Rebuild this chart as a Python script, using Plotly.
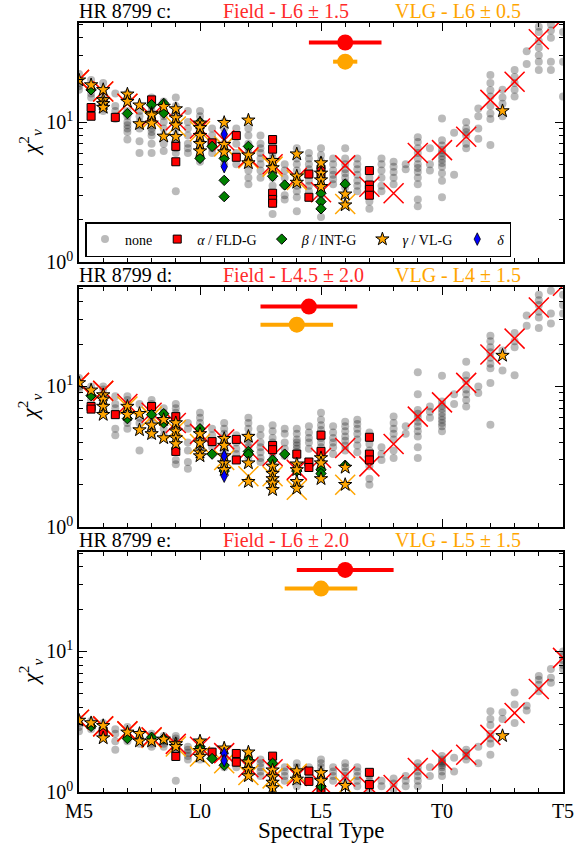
import plotly.graph_objects as go
import math

# ---------------- data ----------------
# spectral type numeric: M5=-5, L0=0, L5=5, T0=10, T5=15
tick_vals = [-5, 0, 5, 10, 15]
tick_text = ["M5", "L0", "L5", "T0", "T5"]
fit_types = list(range(-5, 16))

# HR 8799 c
none_c = {
    -5: [22, 20, 19, 18, 17], -4.5: [20, 18, 16, 15], -4: [19, 17, 15, 14, 13, 12.5, 12],
    -3.5: [16, 13, 12, 11, 10.5], -3: [16, 14, 12, 11, 10, 9.5, 9, 8.5, 7.5],
    -2.5: [12, 11, 10, 9.5, 9, 7.3, 6.0], -2: [15, 14, 13, 12, 11, 10.5, 10, 9.5, 9, 8.5, 8, 7, 6],
    -1.5: [14, 12, 11, 10, 9, 8, 7, 6.2], -1: [15, 13, 12, 11, 10, 9, 8, 7.5, 7, 6.5, 6, 3.2],
    -0.5: [12, 10, 9, 8, 7, 6.5, 6], 0: [12, 11, 10, 9.5, 9, 8.5, 8, 7.5, 7, 6.5, 6, 5.5, 5.2],
    0.5: [9, 8, 7, 6.5, 6], 1: [10, 9, 8, 7, 6.5, 6, 5.5, 5], 1.5: [9, 8, 7, 6, 5],
    2: [9, 8, 7, 6.5, 6, 5.5, 5, 4.5, 4, 3.6], 2.5: [8, 7, 6.5, 6, 5.5, 5, 4.5, 4],
    3: [7, 6, 5.5, 5, 4.5, 4, 3.5, 3, 2.6, 2.2], 3.5: [5, 4.5, 4, 3.5, 3, 2.8],
    4: [6.5, 5.5, 5, 4.5, 4, 3.7, 3.5, 3.2, 2.9, 2.3], 4.5: [6, 5.5, 5, 4.6, 4.2, 3.8, 3.5, 3.2, 2.9],
    5: [6.5, 5.8, 5.3, 5, 4.7, 4.4, 4.1, 3.8, 3.5, 3.2, 2.8, 2.4, 2.1],
    5.5: [5.5, 5, 4.5, 4.2, 3.9, 3.6], 6: [6.5, 5.5, 5, 4.6, 4.3, 4, 3.7, 3.4, 3, 2.6],
    6.5: [5.5, 5, 4.6, 4.2, 3.8, 3.5, 3.2], 7: [4.5, 4, 3.5, 3.2, 3, 2.7, 2.4],
    7.5: [5.5, 5, 4.5, 4, 3.5, 3.2], 8: [5.2, 4.8, 4.4, 4, 3.6], 8.5: [5, 4.6],
    9: [7.8, 7.2, 6.5, 6, 5.5, 5, 4.7, 4.4, 4, 3.6, 2.8, 2.5], 9.5: [6.5, 5, 4.5],
    10: [10.6, 7.4, 6.8, 6.3, 6, 5.7, 5.4, 5.1, 4.8, 4.3, 3.8, 2.9], 10.5: [8.4, 4.2],
    11: [10, 9, 8.5, 8, 7, 6.5], 11.5: [12.5, 11, 9, 7.6],
    12: [21.7, 19, 16.9, 15.2, 13, 11.5, 10.5, 6.85], 12.5: [17, 15, 13.5, 11],
    13: [23.5, 21, 19, 17, 15.2], 13.5: [32, 26],
    14: [48, 44, 38, 34, 30, 27, 23.5], 14.5: [50, 45, 40, 27, 23.5], 15: [44, 27, 15.2],
}
fld_c = [(-4.5, 12.7), (-4.5, 11.0), (-4, 14.0), (-3.5, 10.8), (-2, 14.4), (-1, 6.7), (-1, 5.2),
         (0.5, 7.1), (1.5, 8.0), (1.5, 5.6), (3, 7.5), (3, 6.4), (3, 3.1), (3, 2.8), (3, 2.63),
         (4.5, 4.25), (4.5, 2.9), (5, 4.6), (5, 4.2), (7, 4.5), (7, 3.55), (7, 3.3), (7, 3.0)]
int_c = [(-4.5, 17.0), (-3, 11.5), (-2, 13.3), (-1.5, 13.6), (-1.5, 11.6), (0, 10.0), (0, 5.5),
         (0.5, 6.7), (1, 5.5), (1, 3.83), (1, 2.93), (2, 6.7), (3, 4.1), (3.5, 3.55),
         (5, 3.1), (5, 2.7), (5, 2.4), (6, 3.6)]
vlg_c = [(-5, 19.9), (-4.5, 18.4), (-4, 17.0), (-4, 14.4), (-4, 13.5), (-4, 12.7), (-3, 15.8),
         (-3, 14.0), (-2.5, 13.2), (-2.5, 9.7), (-2, 11.5), (-2, 11.2), (-2, 9.8), (-1.5, 12.9),
         (-1.5, 7.9), (-1, 12.4), (-1, 10.7), (-1, 9.5), (-1, 7.85), (0, 9.8), (0, 9.1), (0, 8.0),
         (0, 7.0), (0, 6.2), (1, 9.9), (1, 6.9), (1, 6.1), (2, 10.3), (2, 5.8), (2, 5.1),
         (3, 5.3), (3, 4.7), (4, 5.9), (4, 4.1), (4, 3.7), (5, 5.1), (5, 4.3), (5, 3.85),
         (5, 3.45), (6, 3.05), (6, 2.55), (12.5, 12.0)]
del_c = [(1, 8.2), (1, 4.8)]
fld_fit_c = [20, 16.5, 13.5, 11, 10.3, 9.0, 7.4, 5.6, 5.0, 4.0, 3.15, 4.9, 3.45, 3.1, 6.0, 6.3,
             7.85, 14.4, 19.4, 39, 55]
vlg_fit_c = [20, 16.5, 13.5, 10.5, 9.3, 8.6, 6.7, 5.5, 4.8, 3.85, None, 2.6]

# HR 8799 d
none_d = {
    -5: [11.5, 10, 9.5], -4.5: [10, 9, 8], -4: [10, 9.5, 8, 7.5, 7], -3.5: [8.5, 7.5, 7, 5, 4.5],
    -3: [8.5, 8, 7.5, 7, 6.5, 6, 5.5, 5], -2.5: [7.5, 6, 5.5, 3.5],
    -2: [8, 7.5, 7, 6.5, 6, 5.5, 5, 4.5], -1.5: [7, 6.5, 6, 5.5, 5, 4.5],
    -1: [7.5, 7, 6.5, 6, 5.5, 5, 4.5, 4, 3, 2.8], -0.5: [5.5, 5, 4, 3.5, 2.9, 2.6],
    0: [6.5, 6, 5.5, 5, 4.5, 4.3, 4, 3.8, 3.6, 3.4], 0.5: [5, 4.5, 4, 3.7],
    1: [5.5, 5, 4.6, 4.3, 4, 3.7, 3.4, 3.1, 2.8], 1.5: [4.5, 4, 3.6, 3.3],
    2: [6, 5.5, 5, 4.5, 4.2, 4, 3.7, 3.4, 3.1], 2.5: [5, 4.5, 4, 3.7, 3.4, 3.1, 2.9],
    3: [5.3, 4.8, 4.3, 4, 3.7, 3.4, 3.1, 2.8], 3.5: [5, 4.6, 4, 3.6, 3.2],
    4: [5, 4.6, 4.2, 4, 3.8, 3.6, 3.4, 3.2], 4.5: [5.2, 4.7, 4.3, 4, 3.6],
    5: [6.5, 5.8, 5.3, 4.9, 4.6, 4.3, 4, 3.7, 3.4, 3.1, 2.8], 5.5: [5.2, 4.7, 4.3, 4, 3.7, 3.3],
    6: [5.6, 5.2, 4.8, 4.4, 4.1, 3.8, 3.5], 6.5: [5.8, 5.4, 5, 4.6, 4.2, 3.8, 3.4],
    7: [4.7, 4.3, 3.9, 3.5, 3.1, 2.7, 2.2, 2.0], 7.5: [3.7, 3.3, 3.0],
    8: [6.1, 5.5, 5, 4.6, 4.2, 3.5, 3.1], 8.5: [5.2, 4.6],
    9: [12.6, 8.8, 6.8, 6.4, 6, 5.6, 5.2, 4.8, 4.4, 3.7, 3.1], 9.5: [7.2, 6.6, 6.0],
    10: [11.9, 7.8, 7.3, 6.9, 6.5, 6.1, 5.8, 5.5, 5.2, 4.8], 10.5: [8.8, 7.5],
    11: [15, 12, 11, 9.5, 8.8, 8, 7.2], 11.5: [10, 9],
    12: [22.9, 21, 19, 17.5, 16, 14.5, 13.5, 10.6, 5.35], 12.5: [18, 13],
    13: [24, 21, 19, 12], 13.5: [32, 27],
    14: [45, 41, 38, 34, 31, 26], 14.5: [48, 33, 28], 15: [55, 45, 38, 33],
}
fld_d = [(-4.5, 7.2), (-4.5, 6.9), (-3.5, 6.3), (-2, 7.2), (-1, 6.1), (-1, 3.45), (0.5, 4.05),
         (1.5, 4.2), (1.5, 3.0), (3, 3.8), (3, 3.55), (4, 3.3), (4.5, 2.9), (4.5, 2.65),
         (5, 4.5), (5, 3.45), (7, 4.35), (7, 3.3), (7, 3.0)]
int_d = [(-4.5, 8.6), (-3, 5.9), (-2, 6.3), (-1.5, 6.4), (-1.5, 5.5), (0, 5.0), (0.5, 3.3),
         (1, 2.5), (2, 3.45), (2, 3.3), (3, 3.0), (3.5, 3.3), (4, 2.5), (5, 2.55), (5, 2.4),
         (6, 2.75)]
vlg_d = [(-5, 10.6), (-4.5, 9.4), (-4, 8.7), (-4, 8.1), (-4, 7.2), (-4, 6.3), (-3, 7.2),
         (-3, 6.3), (-2.5, 6.4), (-2.5, 4.9), (-2, 5.3), (-2, 4.6), (-1.5, 5.8), (-1.5, 4.3),
         (-1, 5.5), (-1, 4.8), (-1, 4.3), (-1, 3.9), (0, 4.6), (0, 3.96), (0, 3.4), (0, 3.2),
         (1, 4.25), (1, 3.8), (1, 3.2), (1, 2.85), (1, 2.55), (2, 4.4), (2, 2.85), (2, 2.1),
         (3, 2.7), (3, 2.4), (3, 2.2), (3, 2.05), (3, 1.84), (4, 2.8), (4, 2.55), (4, 2.1),
         (4, 1.88), (5, 3.1), (5, 2.85), (5, 2.2), (6, 2.65), (6, 2.0), (12.5, 16.6)]
del_d = [(1, 3.2), (1, 2.3)]
fld_fit_d = [10.6, 9.3, 7.5, 6.5, 5.5, 4.6, 4.2, 3.55, 3.2, 2.55, 3.1, 3.65, 2.7, 3.9, 6.1, 7.7,
             10.6, 16.9, 21.9, 36.5, 52]
vlg_fit_d = [10.6, 9.3, 7.2, 6.1, 4.9, 3.9, 3.0, 2.3, 2.3, 1.84, None, 2.0]

# HR 8799 e
none_e = {
    -5: [3.3, 3.1, 2.9, 2.7], -4.5: [3.2, 3.0, 2.8], -4: [3.1, 2.9, 2.7, 2.6],
    -3.5: [2.8, 2.6, 2.3, 2.0], -3: [2.9, 2.7, 2.5, 2.3], -2.5: [2.6, 2.4, 2.2],
    -2: [2.6, 2.5, 2.4, 2.3, 2.2, 2.1], -1.5: [2.5, 2.3, 2.2, 2.1],
    -1: [2.5, 2.4, 2.3, 2.2, 2.1, 2.0, 1.9, 1.2], -0.5: [2.1, 2.0, 1.9, 1.8, 1.7],
    0: [2.3, 2.2, 2.1, 2.0, 1.9, 1.8, 1.7], 0.5: [1.95, 1.85, 1.75],
    1: [1.9, 1.8, 1.7, 1.6, 1.5], 1.5: [1.8, 1.7, 1.6, 1.5],
    2: [1.9, 1.8, 1.7, 1.6, 1.5, 1.4], 2.5: [1.7, 1.6, 1.5, 1.4, 1.3],
    3: [1.7, 1.6, 1.5, 1.4, 1.3, 1.2], 3.5: [1.5, 1.4, 1.3, 1.2],
    4: [1.6, 1.5, 1.4, 1.3, 1.2, 1.1], 4.5: [1.5, 1.4, 1.3, 1.2],
    5: [1.7, 1.6, 1.5, 1.4, 1.3, 1.2, 1.1], 5.5: [1.5, 1.4, 1.3, 1.2],
    6: [1.6, 1.5, 1.4, 1.3, 1.2, 1.1], 6.5: [1.5, 1.4, 1.3, 1.2, 1.1],
    7: [1.3, 1.2, 1.1, 1.05], 7.5: [1.2, 1.1], 8: [1.25, 1.15, 1.05], 8.5: [1.3, 1.2, 1.1],
    9: [1.6, 1.5, 1.4, 1.3, 1.2, 1.1], 9.5: [1.5, 1.3],
    10: [1.8, 1.7, 1.65, 1.6, 1.55, 1.5, 1.4, 1.3], 10.5: [1.75, 1.4],
    11: [2.0, 1.9, 1.8, 1.7], 11.5: [2.1, 1.6],
    12: [3.75, 3.3, 3.0, 2.6, 2.4, 2.2, 1.84], 12.5: [3.7, 3.3],
    13: [5.1, 4.2, 3.1], 13.5: [4.1, 3.8],
    14: [6.7, 6.3, 5.8, 5.2], 14.5: [7.5, 6.5, 6.0], 15: [10, 9.3, 8.7, 8.0, 7.5],
}
fld_e = [(-4, 2.7), (-1, 1.79), (0.5, 1.92), (1.5, 1.88), (1.5, 1.63), (3, 1.8),
         (4.5, 1.41), (4.5, 1.19), (5, 1.04), (7, 1.38), (7, 1.13)]
int_e = [(-4.5, 2.93), (-3, 2.4), (-2, 2.45), (-1.5, 2.4), (0, 2.1), (0.5, 1.73), (1, 1.55),
         (2, 1.7), (3, 1.6), (5, 1.1)]
vlg_e = [(-5, 3.23), (-4.5, 3.1), (-4, 2.96), (-4, 2.42), (-3, 2.66), (-2.5, 2.6), (-2.5, 2.3),
         (-2, 2.3), (-1.5, 2.37), (-1, 2.2), (-1, 2.1), (0, 2.3), (0, 1.97), (0, 1.79),
         (1, 2.05), (2, 1.92), (2, 1.63), (2, 1.44), (2, 1.3), (3, 1.43), (3, 1.28), (3, 1.17),
         (3, 1.07), (4, 1.41), (4, 1.23), (5, 1.37), (5, 1.2), (6, 1.11), (12.5, 2.51)]
del_e = [(1, 1.88), (1, 1.67)]
fld_fit_e = [3.27, 2.93, 2.7, 2.45, 2.2, 2.1, 1.89, 1.5, 1.45, 1.3, 1.15, 1.29, 1.09, 1.12, 1.48,
             1.69, 1.84, 2.55, 3.65, 5.4, 9.0]
vlg_fit_e = [3.27, 2.93, 2.7, 2.42, 2.11, 1.79, 1.6, 1.32, 1.25, 1.35, None, 1.09]

panels = [
    dict(name="HR 8799 c:", field="Field - L6 ± 1.5", vlg="VLG - L6 ± 0.5",
         none=none_c, fld=fld_c, int=int_c, vlg_pts=vlg_c, dl=del_c,
         fld_fit=fld_fit_c, vlg_fit=vlg_fit_c, best_f=(6, 1.5, 37), best_v=(6, 0.5, 27)),
    dict(name="HR 8799 d:", field="Field - L4.5 ± 2.0", vlg="VLG - L4 ± 1.5",
         none=none_d, fld=fld_d, int=int_d, vlg_pts=vlg_d, dl=del_d,
         fld_fit=fld_fit_d, vlg_fit=vlg_fit_d, best_f=(4.5, 2.0, 37), best_v=(4, 1.5, 27.5)),
    dict(name="HR 8799 e:", field="Field - L6 ± 2.0", vlg="VLG - L5 ± 1.5",
         none=none_e, fld=fld_e, int=int_e, vlg_pts=vlg_e, dl=del_e,
         fld_fit=fld_fit_e, vlg_fit=vlg_fit_e, best_f=(6, 2.0, 38), best_v=(5, 1.5, 28)),
]

# ---------------- figure ----------------
W, H = 576, 844
ML, MT = 79, 23
MR = W - 563
MB = H - 792
PW, PH = W - ML - MR, H - MT - MB
panel_px = [(23, 262), (287, 527), (552, 792)]


def py2paper(py):
    return (H - MB - py) / PH


def px2paper(px):
    return (px - ML) / PW


FONT = "Liberation Serif"
RED = "#ff0000"
ORANGE = "#ffa500"
fig = go.Figure()

for i, p in enumerate(panels):
    xa = "x" if i == 0 else f"x{i+1}"
    ya = "y" if i == 0 else f"y{i+1}"
    leg = (i == 0)
    gx, gy = [], []
    for st, vals in p["none"].items():
        for v in vals:
            gx.append(st)
            gy.append(v)
    fig.add_trace(go.Scatter(x=gx, y=gy, mode="markers", xaxis=xa, yaxis=ya, name="none",
                             legendgroup="none", showlegend=leg,
                             marker=dict(color="rgba(0,0,0,0.27)", size=8, line=dict(width=0))))
    vt = [t for t, v in zip(fit_types, p["vlg_fit"]) if v is not None]
    vv = [v for v in p["vlg_fit"] if v is not None]
    fig.add_trace(go.Scatter(x=vt, y=vv, mode="markers", xaxis=xa, yaxis=ya, showlegend=False,
                             marker=dict(symbol="x-thin", size=20, line=dict(color=ORANGE, width=1.5))))
    fig.add_trace(go.Scatter(x=fit_types, y=p["fld_fit"], mode="markers", xaxis=xa, yaxis=ya,
                             showlegend=False,
                             marker=dict(symbol="x-thin", size=20, line=dict(color=RED, width=1.5))))
    fig.add_trace(go.Scatter(x=[a for a, b in p["fld"]], y=[b for a, b in p["fld"]], mode="markers",
                             xaxis=xa, yaxis=ya, name="<i>α</i> / FLD-G", legendgroup="a",
                             showlegend=leg,
                             marker=dict(symbol="square", size=8, color=RED,
                                         line=dict(color="black", width=1))))
    fig.add_trace(go.Scatter(x=[a for a, b in p["int"]], y=[b for a, b in p["int"]], mode="markers",
                             xaxis=xa, yaxis=ya, name="<i>β</i> / INT-G", legendgroup="b",
                             showlegend=leg,
                             marker=dict(symbol="diamond", size=8, color="#008000",
                                         line=dict(color="black", width=1))))
    fig.add_trace(go.Scatter(x=[a for a, b in p["vlg_pts"]], y=[b for a, b in p["vlg_pts"]],
                             mode="markers", xaxis=xa, yaxis=ya, name="<i>γ</i> / VL-G",
                             legendgroup="g", showlegend=leg,
                             marker=dict(symbol="star", size=10, color=ORANGE,
                                         line=dict(color="black", width=1))))
    fig.add_trace(go.Scatter(x=[a for a, b in p["dl"]], y=[b for a, b in p["dl"]], mode="markers",
                             xaxis=xa, yaxis=ya, name="<i>δ</i>", legendgroup="d", showlegend=leg,
                             marker=dict(symbol="diamond-tall", size=9, color="#0000ff",
                                         line=dict(color="black", width=0.8))))
    bf, bv = p["best_f"], p["best_v"]
    fig.add_trace(go.Scatter(x=[bv[0]], y=[bv[2]], mode="markers", xaxis=xa, yaxis=ya,
                             showlegend=False,
                             error_x=dict(type="data", array=[bv[1]], color=ORANGE, thickness=4,
                                          width=0),
                             marker=dict(size=16, color=ORANGE)))
    fig.add_trace(go.Scatter(x=[bf[0]], y=[bf[2]], mode="markers", xaxis=xa, yaxis=ya,
                             showlegend=False,
                             error_x=dict(type="data", array=[bf[1]], color=RED, thickness=4,
                                          width=0),
                             marker=dict(size=16, color=RED)))

    top, bot = panel_px[i]
    dom = [py2paper(bot), py2paper(top)]
    axis_common = dict(showline=True, linecolor="black", linewidth=1.5, mirror="allticks",
                       ticks="inside", tickcolor="black", showgrid=False, zeroline=False,
                       automargin=False,
                       tickfont=dict(family=FONT, size=20, color="black"))
    xkey = "xaxis" if i == 0 else f"xaxis{i+1}"
    ykey = "yaxis" if i == 0 else f"yaxis{i+1}"
    fig.layout[xkey] = dict(domain=[0, 1], anchor=ya, range=[-5, 15], tickvals=tick_vals,
                            ticktext=tick_text, showticklabels=(i == 2), ticklen=8, tickwidth=1,
                            minor=dict(tickvals=list(range(-5, 16)), ticklen=4, ticks="inside",
                                       tickcolor="black", tickwidth=1),
                            **axis_common)
    fig.layout[ykey] = dict(domain=dom, anchor=xa, type="log", range=[0, math.log10(51)],
                            tickvals=[1, 10], ticktext=["10<sup>0</sup>", "10<sup>1</sup>"],
                            ticklen=8, tickwidth=1,
                            minor=dict(tickvals=[2, 3, 4, 5, 6, 7, 8, 9, 20, 30, 40, 50],
                                       ticklen=4, ticks="inside", tickcolor="black", tickwidth=1),
                            **axis_common)
    ytitle = py2paper(top - 12)
    fig.add_annotation(x=0, y=ytitle, xref="paper", yref="paper", xanchor="left",
                       yanchor="middle", text=p["name"], showarrow=False, xshift=-2,
                       font=dict(family=FONT, size=20, color="black"))
    fig.add_annotation(x=px2paper(223), y=ytitle, xref="paper", yref="paper", xanchor="left",
                       yanchor="middle", text=p["field"], showarrow=False, xshift=-2,
                       font=dict(family=FONT, size=20, color="#ff2a2a"))
    fig.add_annotation(x=px2paper(395), y=ytitle, xref="paper", yref="paper", xanchor="left",
                       yanchor="middle", text=p["vlg"], showarrow=False, xshift=-2,
                       font=dict(family=FONT, size=20, color=ORANGE))
    fig.add_annotation(x=px2paper(30), y=py2paper((top + bot) / 2), xref="paper", yref="paper",
                       xanchor="center", yanchor="middle", textangle=-90,
                       text="<i>χ</i><sup>2</sup><sub><i>ν</i></sub>", showarrow=False,
                       font=dict(family=FONT, size=22, color="black"))

fig.add_annotation(x=px2paper(321), y=py2paper(831), xref="paper", yref="paper",
                   xanchor="center", yanchor="middle", text="Spectral Type", showarrow=False,
                   font=dict(family=FONT, size=23, color="black"))

fig.update_layout(
    width=W, height=H, margin=dict(l=ML, r=MR, t=MT, b=MB, autoexpand=False),
    paper_bgcolor="white", plot_bgcolor="white",
    font=dict(family=FONT, size=14, color="black"),
    legend=dict(orientation="h", x=px2paper(85), y=py2paper(257), xanchor="left",
                yanchor="bottom", bgcolor="white", bordercolor="black", borderwidth=1.5,
                font=dict(family=FONT, size=14), itemsizing="trace", tracegroupgap=0),
)

fig.write_html("out.html", config={"displayModeBar": False},
               post_script="document.body.style.margin='0px';document.body.style.overflow='hidden';")
